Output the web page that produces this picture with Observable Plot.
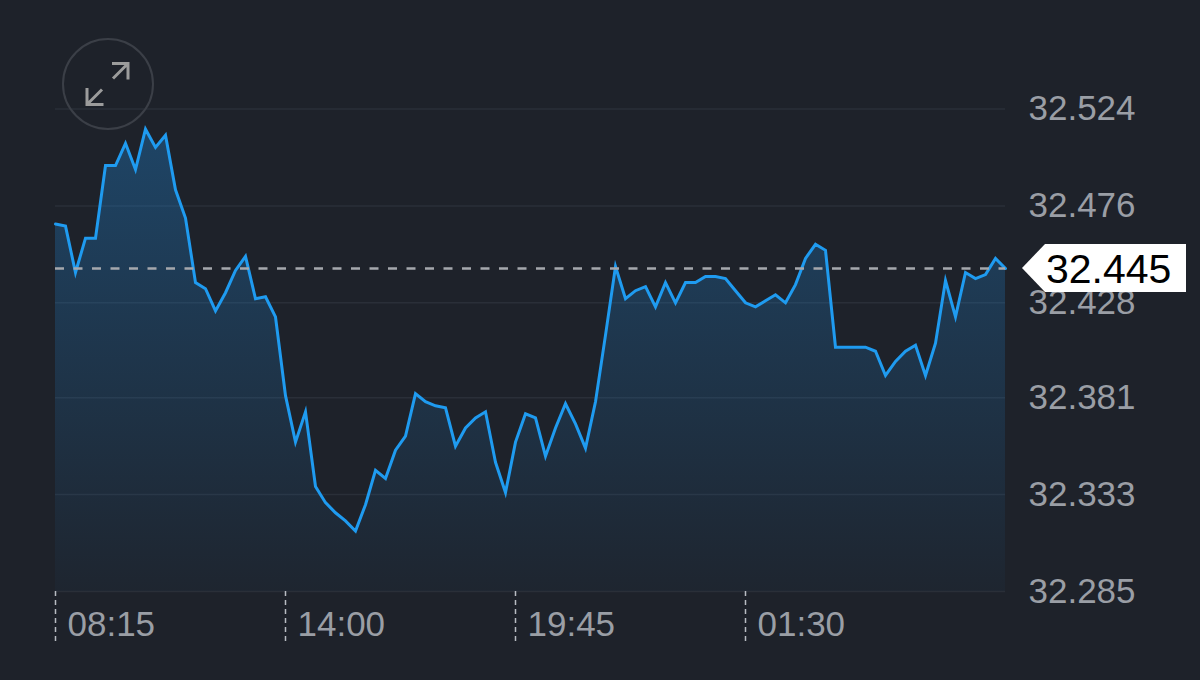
<!DOCTYPE html>
<html>
<head>
<meta charset="utf-8">
<script src="https://cdn.jsdelivr.net/npm/d3@7"></script>
<script src="https://cdn.jsdelivr.net/npm/@observablehq/plot@0.6"></script>
<style>
  html, body { margin: 0; padding: 0; background: #1e222a; overflow: hidden; }
  #chart { width: 1200px; height: 680px; }
</style>
</head>
<body>
<div id="chart"></div>
<script>
// ---- data (15-minute closes) ----
const startTime = "08:15";
const stepMinutes = 15;
const prices = [
  32.467, 32.466, 32.443, 32.460, 32.460, 32.496, 32.496, 32.507, 32.494, 32.514,
  32.505, 32.511, 32.484, 32.470, 32.438, 32.435, 32.424, 32.433, 32.444, 32.451,
  32.430, 32.431, 32.421, 32.382, 32.359, 32.374, 32.337, 32.329, 32.324, 32.320,
  32.315, 32.328, 32.345, 32.341, 32.355, 32.362, 32.383, 32.379, 32.377, 32.376,
  32.357, 32.366, 32.371, 32.374, 32.349, 32.334, 32.359, 32.373, 32.371, 32.352,
  32.366, 32.378, 32.368, 32.356, 32.379, 32.412, 32.446, 32.430, 32.434, 32.436,
  32.426, 32.438, 32.428, 32.438, 32.438, 32.441, 32.441, 32.440, 32.434, 32.428,
  32.426, 32.429, 32.432, 32.428, 32.437, 32.450, 32.457, 32.454, 32.406, 32.406,
  32.406, 32.406, 32.404, 32.392, 32.399, 32.404, 32.407, 32.392, 32.408, 32.439,
  32.421, 32.443, 32.440, 32.442, 32.450, 32.445
];
const lastPrice = 32.445;
const yTicks = [32.285, 32.333, 32.381, 32.428, 32.476, 32.524];
const xTickLabels = ["08:15", "14:00", "19:45", "01:30"];

// ---- build table ----
function toDate(hhmm) {
  const [h, m] = hhmm.split(":").map(Number);
  const [h0, m0] = startTime.split(":").map(Number);
  let d = Date.UTC(2024, 0, 1, h, m);
  if (h * 60 + m < h0 * 60 + m0) d += 24 * 3600 * 1000;
  return new Date(d);
}
const t0 = toDate(startTime).getTime();
const data = prices.map((v, i) => ({ t: new Date(t0 + i * stepMinutes * 60000), v }));
const xTickDates = xTickLabels.map(toDate);
const fmt = d3.utcFormat("%H:%M");

const chart = Plot.plot({
  width: 1200,
  height: 680,
  marginLeft: 55,
  marginRight: 195,
  marginTop: 108.5,
  marginBottom: 89,
  style: { background: "#1e222a", fontFamily: "'Liberation Sans', Arial, sans-serif", color: "#9a9ea5" },
  x: { type: "utc", domain: [data[0].t, data[data.length - 1].t] },
  y: { domain: [yTicks[0], yTicks[yTicks.length - 1]] },
  marks: [
    Plot.gridY(yTicks, { stroke: "#2a2f38", strokeOpacity: 1, strokeWidth: 1.5 }),
    Plot.areaY(data, { x: "t", y1: yTicks[0], y2: "v", fill: "url(#areaGrad)" }),
    Plot.lineY(data, { x: "t", y: "v", stroke: "#1f9bf0", strokeWidth: 3, strokeLinejoin: "miter", strokeMiterlimit: 8 }),
    Plot.ruleY([lastPrice], { stroke: "#a5a8ad", strokeWidth: 2.5, strokeDasharray: "9,9.5" }),
    Plot.axisY(yTicks, {
      anchor: "right", tickSize: 0, tickPadding: 23, fontSize: 35,
      fill: "#9a9ea5", tickFormat: d => d.toFixed(3), label: null
    }),
    // dashed tick lines below the plot
    Plot.axisX(xTickDates, {
      anchor: "bottom", tickSize: 52, tickPadding: 0,
      stroke: "#b8bcc2", strokeWidth: 1.5, strokeDasharray: "5,4",
      tickFormat: () => "", label: null
    }),
    // tick labels
    Plot.axisX(xTickDates, {
      anchor: "bottom", tickSize: 0, tickPadding: 20,
      fill: "#9a9ea5", textAnchor: "start", dx: 12, fontSize: 35,
      tickFormat: fmt, label: null
    })
  ]
});

document.getElementById("chart").appendChild(chart);

// ---- decorations ----
const svg = d3.select(chart);
const defs = svg.insert("defs", ":first-child");
const grad = defs.append("linearGradient").attr("id", "areaGrad")
  .attr("x1", 0).attr("y1", 0).attr("x2", 0).attr("y2", 1);
grad.append("stop").attr("offset", "0%").attr("stop-color", "#1f8fe6").attr("stop-opacity", 0.32);
grad.append("stop").attr("offset", "100%").attr("stop-color", "#1f8fe6").attr("stop-opacity", 0.03);

// price label with arrow
const yS = chart.scale("y");
const py = yS.apply(lastPrice);
const tipX = 1200 - 195 + 17;
const bx0 = tipX + 23, bx1 = 1186, hh = 24;
const lab = svg.append("g");
lab.append("path")
  .attr("d", `M${tipX},${py} L${bx0},${py - hh} L${bx1},${py - hh} L${bx1},${py + hh} L${bx0},${py + hh} Z`)
  .attr("fill", "#ffffff");
lab.append("text")
  .attr("x", bx0 + 1).attr("y", py).attr("dy", "0.36em")
  .attr("text-anchor", "start")
  .attr("font-size", 41).attr("fill", "#000")
  .text(lastPrice.toFixed(3));

// expand icon
const icon = svg.append("g").attr("fill", "none");
icon.append("circle").attr("cx", 108).attr("cy", 84).attr("r", 45)
  .attr("stroke", "#3b3f47").attr("stroke-width", 2);
icon.append("path").attr("d", "M112,63.5 L128,63.5 L128,79.5 M128,63.5 L113,78.5")
  .attr("stroke", "#9c9c9c").attr("stroke-width", 3);
icon.append("path").attr("d", "M87,88 L87,104.5 L103.5,104.5 M87,104.5 L102,89.5")
  .attr("stroke", "#9c9c9c").attr("stroke-width", 3);
</script>
</body>
</html>
